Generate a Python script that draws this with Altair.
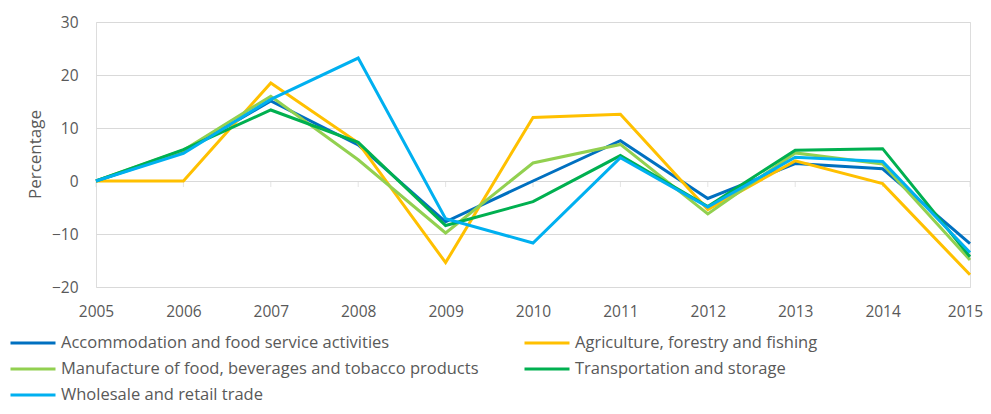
import altair as alt
import pandas as pd

years = list(range(2005, 2016))
series_names = [
    "Accommodation and food service activities",
    "Agriculture, forestry and fishing",
    "Manufacture of food, beverages and tobacco products",
    "Transportation and storage",
    "Wholesale and retail trade",
]
series_colors = ["#0070C0", "#FFC000", "#92D050", "#00B050", "#00B0F0"]
# legend fills column by column: reorder so it reads row by row
legend_order = [series_names[i] for i in (0, 2, 4, 1, 3)]

accommodation = [0, 5.5, 15.1, 6.8, -7.7, 0.0, 7.6, -3.3, 3.3, 2.3, -11.8]
agriculture = [0, 0, 18.5, 7.2, -15.4, 12.0, 12.6, -5.4, 3.8, -0.5, -17.7]
manufacture = [0, 5.8, 16.0, 4.0, -9.8, 3.4, 6.9, -6.2, 5.3, 3.2, -14.9]
transportation = [0, 5.9, 13.4, 7.3, -8.4, -3.9, 4.8, -4.8, 5.8, 6.1, -14.3]
wholesale = [0, 5.2, 15.4, 23.2, -7.1, -11.7, 4.4, -4.9, 4.5, 3.7, -13.5]

y_ticks = [-20, -10, 0, 10, 20, 30]

all_values = [accommodation, agriculture, manufacture, transportation, wholesale]
rows = []
for name, vals in zip(series_names, all_values):
    for yr, v in zip(years, vals):
        rows.append({"Year": yr, "Series": name, "Value": v})
df = pd.DataFrame(rows)
df_years = pd.DataFrame({"Year": years})

FONT = "Open Sans"
GRAY = "#595959"

x_enc = alt.X(
    "Year:Q",
    scale=alt.Scale(domain=[2005, 2015], nice=False, zero=False),
    axis=alt.Axis(
        values=years, format="d", grid=False, domain=False, ticks=False,
        labelPadding=17, labelFontSize=15.5, labelColor=GRAY, labelFont=FONT,
        labelFlush=False, labelOverlap=False, title=None,
        labelOffset=alt.condition("datum.value == 2015", alt.value(-5), alt.value(0)),
    ),
)
y_scale = alt.Scale(domain=[-20, 30], nice=False)

lines = alt.Chart(df).mark_line(strokeWidth=3).encode(
    x=x_enc,
    y=alt.Y(
        "Value:Q",
        scale=y_scale,
        axis=alt.Axis(
            values=y_ticks, grid=True, gridColor="#d9d9d9", gridWidth=1,
            domain=False, ticks=False, labelPadding=18, labelFontSize=15.5,
            labelColor=GRAY, labelFont=FONT, labelFlush=False,
            title="Percentage", titleFontSize=17, titleFontWeight="normal",
            titleColor=GRAY, titleFont=FONT, titleX=-61, titleY=132,
            titleAngle=270, titleAlign="center", titleBaseline="middle",
        ),
    ),
    color=alt.Color(
        "Series:N",
        scale=alt.Scale(domain=series_names, range=series_colors),
        legend=alt.Legend(
            values=legend_order,
            orient="none", legendX=-87, legendY=311, columns=2,
            symbolType="stroke", symbolSize=2025, symbolStrokeWidth=3,
            clipHeight=20, rowPadding=6, columnPadding=44,
            labelFontSize=16.5, labelColor=GRAY, labelFont=FONT,
            labelLimit=700, labelOffset=4, title=None, padding=0,
        ),
    ),
    order=alt.Order("Year:Q"),
)

ticks = alt.Chart(df_years).mark_tick(
    orient="vertical", size=6, thickness=1, color="#d9d9d9", yOffset=3
).encode(
    x=alt.X("Year:Q"),
    y=alt.datum(0),
)

chart = alt.layer(ticks, lines).properties(
    width=874,
    height=265,
    autosize=alt.AutoSizeParams(type="none"),
    padding={"left": 88, "top": 14, "right": 13, "bottom": 119},
).configure_view(stroke=None).configure(background="white")

chart.save("out.html", embed_options={"renderer": "svg", "actions": False})
